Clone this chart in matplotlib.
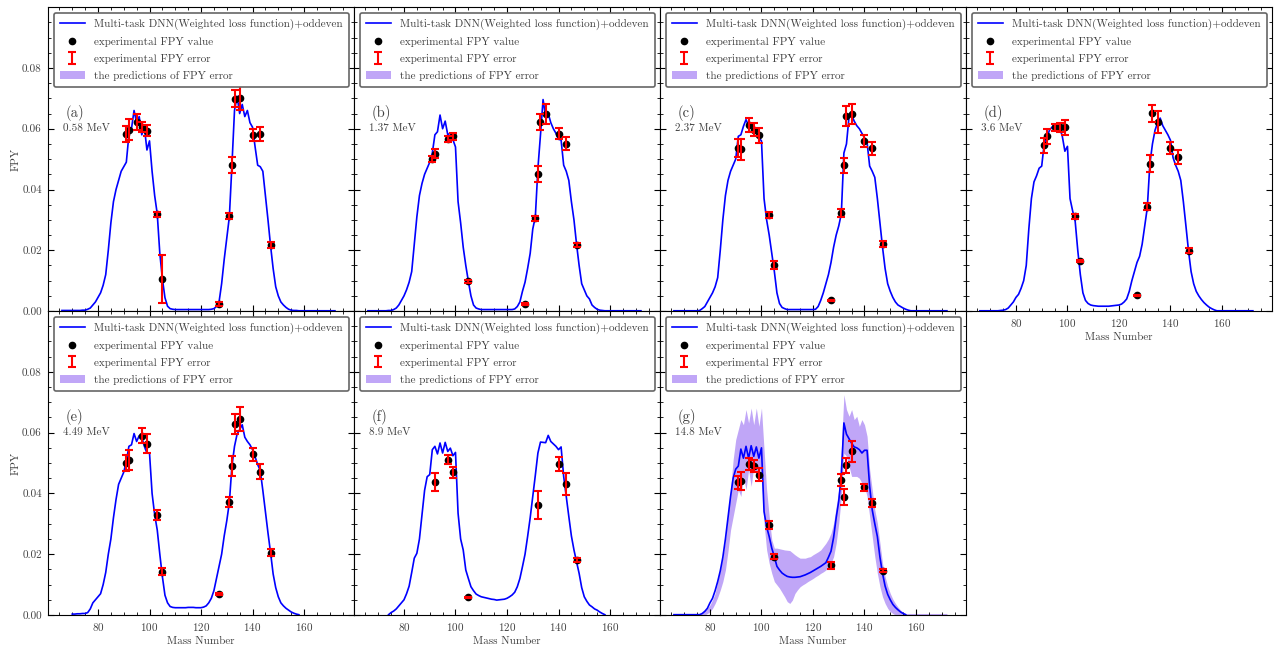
import numpy as np
import matplotlib
matplotlib.use("Agg")
import matplotlib.pyplot as plt
from matplotlib.patches import Patch
from matplotlib.ticker import MultipleLocator

plt.rcParams["font.family"] = "serif"
plt.rcParams["font.serif"] = ["cmr10"]
plt.rcParams["mathtext.fontset"] = "cm"
plt.rcParams["axes.formatter.use_mathtext"] = True
plt.rcParams["font.size"] = 8
plt.rcParams["text.color"] = "0.25"
plt.rcParams["axes.labelcolor"] = "0.25"
plt.rcParams["xtick.labelcolor"] = "0.25"
plt.rcParams["ytick.labelcolor"] = "0.25"

nan = np.nan

# mass number grid used by the model curves
mass = np.arange(66, 173)

# model FPY curves, one per incident energy (A = 66 ... 172)
fpy_a = [0.0002, 0.0002, 0.0002, 0.0002, 0.0002, 0.0002, 0.0002, 0.0002, 0.0003, 0.0003,
         0.0006, 0.001, 0.002, 0.003, 0.0045, 0.006, 0.0085, 0.012, 0.02, 0.029,
         0.036, 0.04, 0.043, 0.046, 0.0475, 0.049, 0.058, 0.06, 0.066, 0.062,
         0.064, 0.058, 0.0605, 0.053, 0.056, 0.046, 0.038, 0.032, 0.019, 0.0106,
         0.0044, 0.0016, 0.0008, 0.0006, 0.0005, 0.0005, 0.0005, 0.0005, 0.0005, 0.0005,
         0.0005, 0.0005, 0.0005, 0.0005, 0.0005, 0.0005, 0.0005, 0.0005, 0.0006, 0.0008,
         0.0015, 0.003, 0.009, 0.017, 0.024, 0.031, 0.048, 0.066, 0.0707, 0.065,
         0.068, 0.064, 0.066, 0.062, 0.0605, 0.054, 0.048, 0.0475, 0.046, 0.038,
         0.03, 0.0215, 0.014, 0.008, 0.005, 0.003, 0.002, 0.0012, 0.0006, 0.0003,
         0.0002, 0.0002, 0.0001, 0.0001, 0.0001, 0.0001, 0.0001, 0.0001, 0.0001, 0.0001,
         0.0001, 0.0001, 0.0001, 0.0001, 0.0001, 0.0001, 0.0001]
fpy_b = [0.0001, 0.0001, 0.0001, 0.0001, 0.0001, 0.0001, 0.0001, 0.0001, 0.0002, 0.0002,
         0.0005, 0.001, 0.002, 0.0035, 0.005, 0.007, 0.0095, 0.013, 0.022, 0.031,
         0.038, 0.042, 0.045, 0.047, 0.049, 0.052, 0.058, 0.059, 0.0645, 0.06,
         0.0625, 0.058, 0.0586, 0.0564, 0.054, 0.036, 0.029, 0.021, 0.015, 0.0098,
         0.005, 0.002, 0.001, 0.0007, 0.0005, 0.0005, 0.0005, 0.0005, 0.0005, 0.0005,
         0.0005, 0.0005, 0.0005, 0.0005, 0.0005, 0.0005, 0.0005, 0.0007, 0.0015, 0.003,
         0.0065, 0.0095, 0.014, 0.019, 0.027, 0.031, 0.047, 0.058, 0.0696, 0.064,
         0.065, 0.062, 0.06, 0.0585, 0.0565, 0.0563, 0.048, 0.046, 0.043, 0.036,
         0.03, 0.022, 0.015, 0.009, 0.007, 0.005, 0.004, 0.002, 0.0012, 0.0006,
         0.0003, 0.0002, 0.0001, 0.0001, 0.0001, 0.0001, 0.0001, 0.0001, 0.0001, 0.0001,
         0.0001, 0.0001, 0.0001, 0.0001, 0.0001, 0.0001, 0.0001]
fpy_c = [0.0001, 0.0001, 0.0001, 0.0001, 0.0001, 0.0001, 0.0001, 0.0001, 0.0001, 0.0001,
         0.0002, 0.0008, 0.0015, 0.003, 0.0045, 0.006, 0.008, 0.011, 0.02, 0.03,
         0.038, 0.043, 0.046, 0.048, 0.05, 0.0575, 0.058, 0.0608, 0.063, 0.061,
         0.0605, 0.0595, 0.0585, 0.057, 0.056, 0.037, 0.03, 0.025, 0.019, 0.013,
         0.006, 0.0025, 0.0012, 0.0008, 0.0005, 0.0005, 0.0005, 0.0005, 0.0005, 0.0005,
         0.0005, 0.0005, 0.0005, 0.0005, 0.0005, 0.0006, 0.0015, 0.0035, 0.006, 0.009,
         0.012, 0.016, 0.021, 0.025, 0.028, 0.032, 0.052, 0.055, 0.064, 0.0645,
         0.0625, 0.061, 0.06, 0.0585, 0.057, 0.0555, 0.0477, 0.046, 0.044, 0.037,
         0.029, 0.021, 0.014, 0.009, 0.0065, 0.0045, 0.003, 0.002, 0.0015, 0.001,
         0.0006, 0.0003, 0.0001, 0.0001, 0.0001, 0.0001, 0.0001, 0.0001, 0.0001, 0.0001,
         0.0001, 0.0001, 0.0001, 0.0001, 0.0001, 0.0001, 0.0001]
fpy_d = [0.0001, 0.0001, 0.0001, 0.0001, 0.0001, 0.0001, 0.0001, 0.0001, 0.0002, 0.0003,
         0.0005, 0.001, 0.002, 0.003, 0.0045, 0.0055, 0.0075, 0.01, 0.015, 0.027,
         0.037, 0.0425, 0.0445, 0.047, 0.0477, 0.0553, 0.057, 0.0595, 0.0605, 0.0614,
         0.0608, 0.0603, 0.0575, 0.0526, 0.0542, 0.037, 0.033, 0.0295, 0.02, 0.012,
         0.006, 0.0035, 0.0025, 0.002, 0.0018, 0.0017, 0.0016, 0.0016, 0.0016, 0.0016,
         0.0016, 0.0017, 0.0018, 0.0019, 0.002, 0.0023, 0.003, 0.004, 0.0065, 0.01,
         0.013, 0.016, 0.018, 0.022, 0.028, 0.034, 0.0485, 0.055, 0.0595, 0.062,
         0.0635, 0.061, 0.0595, 0.058, 0.0562, 0.0505, 0.048, 0.046, 0.043, 0.036,
         0.028, 0.0198, 0.013, 0.009, 0.0065, 0.005, 0.0038, 0.0028, 0.002, 0.0013,
         0.0008, 0.0004, 0.0001, 0.0001, 0.0001, 0.0001, 0.0001, 0.0001, 0.0001, 0.0001,
         0.0001, 0.0001, 0.0001, 0.0001, 0.0001, 0.0001, 0.0001]
fpy_e = [nan, nan, nan, nan, 0.0003, 0.0003, 0.0004, 0.0004, 0.0005, 0.0005,
         0.0008, 0.002, 0.004, 0.005, 0.006, 0.007, 0.01, 0.014, 0.02, 0.025,
         0.032, 0.038, 0.043, 0.045, 0.047, 0.0505, 0.0555, 0.056, 0.0597, 0.0571,
         0.059, 0.0585, 0.0555, 0.0533, 0.0533, 0.04, 0.033, 0.028, 0.02, 0.0126,
         0.0065, 0.004, 0.0028, 0.0025, 0.0024, 0.0024, 0.0024, 0.0024, 0.0024, 0.0025,
         0.0025, 0.0025, 0.0024, 0.0024, 0.0024, 0.0026, 0.003, 0.004, 0.0055, 0.008,
         0.012, 0.016, 0.02, 0.026, 0.031, 0.037, 0.049, 0.0555, 0.0595, 0.061,
         0.0626, 0.0585, 0.0571, 0.056, 0.0544, 0.052, 0.0495, 0.0475, 0.041, 0.034,
         0.027, 0.0205, 0.0135, 0.009, 0.006, 0.004, 0.003, 0.0022, 0.0016, 0.001,
         0.0006, 0.0003, 0.0001, nan, nan, nan, nan, nan, nan, nan,
         nan, nan, nan, nan, nan, nan, nan]
fpy_f = [nan, nan, nan, nan, nan, nan, nan, nan, 0.0001, 0.0008,
         0.0013, 0.002, 0.003, 0.004, 0.005, 0.007, 0.0095, 0.014, 0.0187, 0.0203,
         0.025, 0.033, 0.041, 0.0455, 0.0462, 0.0544, 0.0555, 0.053, 0.0566, 0.0533,
         0.0568, 0.0538, 0.0549, 0.0524, 0.0535, 0.0335, 0.025, 0.0214, 0.0148, 0.012,
         0.0093, 0.008, 0.0069, 0.0064, 0.006, 0.0058, 0.0056, 0.0054, 0.0052, 0.0051,
         0.0049, 0.005, 0.0051, 0.0052, 0.0055, 0.006, 0.0066, 0.0075, 0.0093, 0.012,
         0.0159, 0.02, 0.0258, 0.032, 0.039, 0.046, 0.0533, 0.0569, 0.0568, 0.0567,
         0.0591, 0.0571, 0.0563, 0.0555, 0.0544, 0.0553, 0.0456, 0.039, 0.0324, 0.026,
         0.0214, 0.0175, 0.0137, 0.009, 0.006, 0.0045, 0.0033, 0.0027, 0.002, 0.0016,
         0.001, 0.0005, 0.0001, nan, nan, nan, nan, nan, nan, nan,
         nan, nan, nan, nan, nan, nan, nan]
fpy_g = [0.0001, 0.0001, 0.0001, 0.0001, 0.0001, 0.0001, 0.0001, 0.0001, 0.0001, 0.0001,
         0.0001, 0.0005, 0.0012, 0.0022, 0.004, 0.0055, 0.008, 0.011, 0.0145, 0.019,
         0.025, 0.032, 0.039, 0.045, 0.048, 0.049, 0.0546, 0.0516, 0.0555, 0.0516,
         0.0557, 0.0522, 0.0553, 0.0516, 0.055, 0.034, 0.029, 0.0258, 0.022, 0.0192,
         0.016, 0.0148, 0.0138, 0.0132, 0.0127, 0.0125, 0.0124, 0.0124, 0.0125, 0.0126,
         0.0129, 0.0132, 0.0136, 0.014, 0.0145, 0.015, 0.0155, 0.016, 0.0166, 0.0172,
         0.019, 0.021, 0.0255, 0.032, 0.0375, 0.046, 0.0632, 0.0595, 0.058, 0.0565,
         0.0553, 0.055, 0.0544, 0.0533, 0.0542, 0.0542, 0.0423, 0.0346, 0.03, 0.0258,
         0.019, 0.0137, 0.0095, 0.0068, 0.005, 0.0035, 0.0025, 0.0017, 0.001, 0.0005,
         0.0001, nan, nan, nan, nan, nan, nan, nan, nan, nan,
         nan, nan, nan, nan, nan, nan, nan]

# predicted uncertainty band at 14.8 MeV
band_hi_g = [0.0005, 0.0005, 0.0005, 0.0005, 0.0005, 0.0005, 0.0005, 0.0005, 0.0005, 0.0005,
             0.0005, 0.0008, 0.0014, 0.0022, 0.0033, 0.005, 0.0071, 0.011, 0.0148, 0.019,
             0.0247, 0.033, 0.0412, 0.0511, 0.0577, 0.061, 0.0643, 0.0626, 0.0676, 0.0632,
             0.0681, 0.0626, 0.0681, 0.0621, 0.0681, 0.0544, 0.0412, 0.0324, 0.0247, 0.022,
             0.022, 0.0218, 0.0216, 0.0214, 0.0213, 0.0212, 0.0205, 0.0198, 0.0192, 0.0187,
             0.0187, 0.0187, 0.019, 0.0192, 0.0198, 0.0203, 0.0208, 0.0214, 0.0225, 0.0236,
             0.025, 0.0269, 0.0302, 0.0357, 0.0412, 0.0544, 0.0725, 0.0676, 0.0654, 0.0676,
             0.0643, 0.0654, 0.0621, 0.0643, 0.0626, 0.0588, 0.0478, 0.0412, 0.0346, 0.0302,
             0.0236, 0.017, 0.0126, 0.0095, 0.0071, 0.0052, 0.0038, 0.0026, 0.0016, 0.0009,
             0.0005, 0.0005, 0.0005, 0.0005, 0.0005, 0.0005, 0.0005, 0.0005, 0.0005, 0.0005,
             0.0005, 0.0005, 0.0005, 0.0005, 0.0005, 0.0005, 0.0005]
band_lo_g = [0.0, 0.0, 0.0, 0.0, 0.0, 0.0, 0.0, 0.0, 0.0, 0.0,
             0.0, 0.0, 0.0, 0.0005, 0.0011, 0.0022, 0.0038, 0.0058, 0.0082, 0.011,
             0.0148, 0.021, 0.028, 0.0324, 0.0368, 0.0412, 0.039, 0.0456, 0.0412, 0.0478,
             0.0423, 0.0489, 0.0456, 0.0489, 0.046, 0.0302, 0.0214, 0.017, 0.0137, 0.011,
             0.0099, 0.0088, 0.0074, 0.006, 0.0044, 0.0038, 0.0049, 0.0071, 0.0083, 0.0093,
             0.0099, 0.0104, 0.011, 0.0115, 0.012, 0.0126, 0.0131, 0.0137, 0.0142, 0.0148,
             0.0158, 0.017, 0.0192, 0.0236, 0.0302, 0.039, 0.0533, 0.0522, 0.0489, 0.0456,
             0.0456, 0.0456, 0.045, 0.0434, 0.0423, 0.039, 0.0324, 0.0258, 0.0192, 0.0137,
             0.0093, 0.006, 0.0038, 0.0022, 0.0011, 0.0005, 0.0, 0.0, 0.0, 0.0,
             0.0, 0.0, 0.0, 0.0, 0.0, 0.0, 0.0, 0.0, 0.0, 0.0,
             0.0, 0.0, 0.0, 0.0, 0.0, 0.0, 0.0]

# experimental chain yields
exp_mass_a = [91, 92, 95, 97, 99, 103, 105, 127, 131, 132, 133, 135, 140, 143, 147]
exp_fpy_a = [0.0583, 0.0597, 0.0622, 0.0606, 0.0594, 0.0318, 0.0106, 0.0024, 0.0312, 0.0480,
             0.0699, 0.0701, 0.0580, 0.0584, 0.0217]
exp_err_a = [0.0026, 0.0034, 0.0025, 0.0017, 0.0018, 0.0009, 0.0079, 0.0006, 0.0010, 0.0027,
             0.0029, 0.0041, 0.0019, 0.0023, 0.0009]

exp_mass_b = [91, 92, 97, 99, 105, 127, 131, 132, 133, 135, 140, 143, 147]
exp_fpy_b = [0.0501, 0.0518, 0.0567, 0.0575, 0.0098, 0.0022, 0.0305, 0.0451, 0.0622, 0.0647,
             0.0583, 0.0551, 0.0218]
exp_err_b = [0.0010, 0.0015, 0.0010, 0.0012, 0.0004, 0.0003, 0.0009, 0.0027, 0.0025, 0.0033,
             0.0018, 0.0022, 0.0007]

exp_mass_c = [91, 92, 95, 97, 99, 103, 105, 127, 131, 132, 133, 135, 140, 143, 147]
exp_fpy_c = [0.0537, 0.0532, 0.0611, 0.0597, 0.0578, 0.0316, 0.0151, 0.0035, 0.0323, 0.0480,
             0.0643, 0.0647, 0.0559, 0.0535, 0.0220]
exp_err_c = [0.0030, 0.0035, 0.0023, 0.0021, 0.0025, 0.0010, 0.0013, 0.0002, 0.0012, 0.0025,
             0.0033, 0.0033, 0.0019, 0.0020, 0.0009]

exp_mass_d = [91, 92, 95, 97, 99, 103, 105, 127, 131, 132, 133, 135, 140, 143, 147]
exp_fpy_d = [0.0545, 0.0575, 0.0605, 0.0605, 0.0605, 0.0312, 0.0164, 0.0052, 0.0343, 0.0485,
             0.0651, 0.0622, 0.0536, 0.0507, 0.0198]
exp_err_d = [0.0025, 0.0025, 0.0012, 0.0015, 0.0025, 0.0009, 0.0004, 0.0002, 0.0011, 0.0027,
             0.0028, 0.0035, 0.0020, 0.0022, 0.0008]

exp_mass_e = [91, 92, 97, 99, 103, 105, 127, 131, 132, 133, 135, 140, 143, 147]
exp_fpy_e = [0.0500, 0.0511, 0.0590, 0.0564, 0.0330, 0.0143, 0.0069, 0.0371, 0.0491, 0.0629,
             0.0645, 0.0529, 0.0471, 0.0205]
exp_err_e = [0.0025, 0.0033, 0.0024, 0.0030, 0.0017, 0.0012, 0.0003, 0.0017, 0.0033, 0.0033,
             0.0040, 0.0022, 0.0025, 0.0012]

exp_mass_f = [92, 97, 99, 105, 132, 140, 143, 147]
exp_fpy_f = [0.0438, 0.0511, 0.0469, 0.0058, 0.0362, 0.0497, 0.0431, 0.0181]
exp_err_f = [0.0030, 0.0014, 0.0018, 0.0002, 0.0045, 0.0024, 0.0037, 0.0006]

exp_mass_g = [91, 92, 95, 97, 99, 103, 105, 127, 131, 132, 133, 135, 140, 143, 147]
exp_fpy_g = [0.0436, 0.0440, 0.0497, 0.0489, 0.0462, 0.0295, 0.0192, 0.0164, 0.0443, 0.0388,
             0.0492, 0.0538, 0.0420, 0.0368, 0.0146]
exp_err_g = [0.0020, 0.0030, 0.0020, 0.0020, 0.0022, 0.0013, 0.0009, 0.0011, 0.0020, 0.0025,
             0.0025, 0.0033, 0.0012, 0.0013, 0.0006]

panel_tags = ["(a)", "(b)", "(c)", "(d)", "(e)", "(f)", "(g)"]
energies = ["0.58 MeV", "1.37 MeV", "2.37 MeV", "3.6 MeV", "4.49 MeV", "8.9 MeV", "14.8 MeV"]

curves = [fpy_a, fpy_b, fpy_c, fpy_d, fpy_e, fpy_f, fpy_g]
exp_sets = [(exp_mass_a, exp_fpy_a, exp_err_a), (exp_mass_b, exp_fpy_b, exp_err_b),
            (exp_mass_c, exp_fpy_c, exp_err_c), (exp_mass_d, exp_fpy_d, exp_err_d),
            (exp_mass_e, exp_fpy_e, exp_err_e), (exp_mass_f, exp_fpy_f, exp_err_f),
            (exp_mass_g, exp_fpy_g, exp_err_g)]
bands = {6: (band_lo_g, band_hi_g)}

band_color = "#c0a6f7"

fig, axes = plt.subplots(2, 4, figsize=(12.74, 6.51), dpi=100, sharex=True, sharey=True)
fig.subplots_adjust(left=0.0377, right=0.9984, top=0.989, bottom=0.0553, wspace=0, hspace=0)
axes = axes.ravel()
axes[7].remove()

for i in range(7):
    ax = axes[i]
    if i in bands:
        lo, hi = bands[i]
        ax.fill_between(mass, lo, hi, color=band_color, linewidth=0, zorder=1)
    line, = ax.plot(mass, curves[i], color="blue", lw=1.2, zorder=2)
    m, y, e = exp_sets[i]
    dots, = ax.plot(m, y, "o", color="black", ms=4.5, ls="none", zorder=3)
    bars = ax.errorbar(m, y, yerr=e, fmt="none", ecolor="red", elinewidth=1.5,
                       capsize=3, capthick=1.5, zorder=4)
    band_patch = Patch(facecolor=band_color, edgecolor="none")

    leg = ax.legend([line, dots, bars, band_patch],
                    ["Multi-task DNN(Weighted loss function)+oddeven",
                     "experimental FPY value", "experimental FPY error",
                     "the predictions of FPY error"],
                    loc="upper left", fontsize=8, fancybox=True, framealpha=1,
                    labelspacing=0.62, borderpad=0.55, handlelength=2.3)
    leg.get_frame().set_edgecolor("0.4")
    leg.get_frame().set_linewidth(1.2)

    ax.text(0.059, 0.651, panel_tags[i], transform=ax.transAxes, fontsize=10.5,
            ha="left", va="center")
    ax.text(0.049, 0.602, energies[i], transform=ax.transAxes, fontsize=8,
            ha="left", va="center")

    ax.set_xlim(60.6, 179.4)
    ax.set_ylim(0, 0.1)
    ax.set_xticks([80, 100, 120, 140, 160])
    ax.set_yticks([0.0, 0.02, 0.04, 0.06, 0.08])
    ax.xaxis.set_minor_locator(MultipleLocator(5))
    ax.yaxis.set_minor_locator(MultipleLocator(0.005))
    ax.tick_params(which="both", direction="in", top=True, right=True)
    ax.tick_params(which="major", length=4, pad=4.5)
    ax.tick_params(which="minor", length=2)

    show_x = i >= 3
    ax.tick_params(labelbottom=show_x)
    if show_x:
        ax.set_xlabel("Mass Number", labelpad=2)
    if i % 4 == 0:
        ax.set_ylabel("FPY", labelpad=1)
        ax.tick_params(labelleft=True)
    ax.yaxis.set_major_formatter(plt.FormatStrFormatter("%.2f"))

fig.savefig("out.png", dpi=100)
